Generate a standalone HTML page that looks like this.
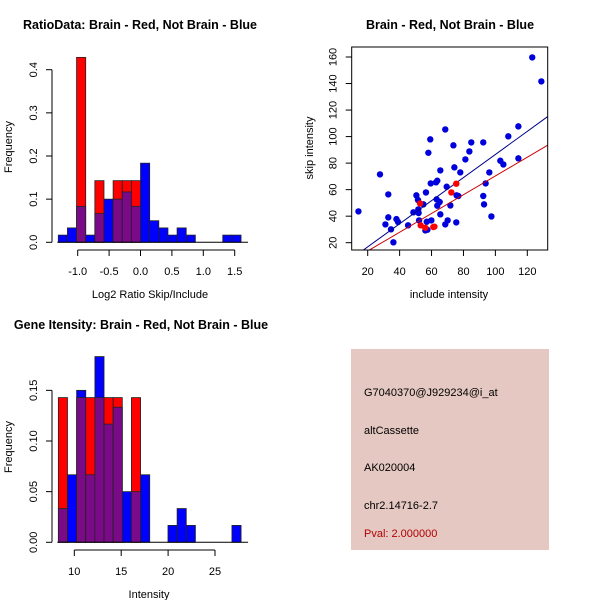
<!DOCTYPE html>
<html><head><meta charset="utf-8"><style>
body{margin:0;background:#fff;}
svg text{font-family:"Liberation Sans",sans-serif;}
</style></head><body>
<svg id="s" width="600" height="600" xmlns="http://www.w3.org/2000/svg">
<rect x="0" y="0" width="600" height="600" fill="#fff"/>
<g id="p1"></g>
<g id="p2"></g>
<g id="p3"></g>
<g>
<rect x="351" y="349" width="198" height="201" fill="#e5c8c2"/>
<text x="364" y="396" font-size="11" fill="#000">G7040370@J929234@i_at</text>
<text x="364" y="434" font-size="11" fill="#000">altCassette</text>
<text x="364" y="471" font-size="11" fill="#000">AK020004</text>
<text x="364" y="509" font-size="11" fill="#000">chr2.14716-2.7</text>
<text x="364" y="537" font-size="11" fill="#b00000">Pval: 2.000000</text>
</g>
</svg>
<script>
const NS="http://www.w3.org/2000/svg";
// Histogram 1 data
const h1Start=-1.309, h1Width=0.1455;
const h1Blue=[1,2,5,1,4,6,6,7,5,11,3,2,1,2,1,0,0,0,1,1];
const h1Red=[0,0,3,0,1,0,1,1,1,0,0,0,0,0,0,0,0,0,0,0];
const h1XTicks=[-1.0,-0.5,0.0,0.5,1.0,1.5];
const h1YTicks=[0.0,0.1,0.2,0.3,0.4];
// Histogram 2 data
const h2Start=8.3, h2Width=0.974;
const h2Blue=[2,4,9,4,11,7,8,3,3,4,0,0,1,2,1,0,0,0,0,1];
const h2Red=[1,0,1,1,1,1,1,0,1,0,0,0,0,0,0,0,0,0,0,0];
const h2XTicks=[10,15,20,25];
const h2YTicks=[0.00,0.05,0.10,0.15];
const nBlue=60, nRed=7;
// Scatter data
const blueX=[14.2,27.7,32.9,31.1,32.9,34.6,36.1,38.0,39.0,45.3,48.6,50.5,51.5,51.7,51.9,52.2,54.9,56.5,57.0,56.1,57.4,58.0,59.2,59.5,59.9,62.8,63.2,63.6,63.6,65.1,65.5,65.5,68.6,68.6,69.5,70.1,71.8,73.7,74.3,75.7,75.5,76.8,78.0,81.2,83.7,84.9,92.4,92.4,92.9,93.9,96.2,97.5,103.1,105.0,108.1,114.4,114.4,123.1,128.8];
const blueY=[43.6,71.5,56.4,33.8,39.1,30.1,20.3,37.8,35.6,33.1,42.9,55.7,52.2,45.1,42.4,36.8,48.9,57.9,35.8,29.3,29.8,87.8,97.9,64.7,36.8,65.5,52.7,66.7,47.9,50.7,41.4,74.5,105.4,33.8,62.2,36.8,48.1,93.4,76.8,55.7,35.3,55.2,73.0,82.8,88.8,95.6,95.6,55.2,48.9,64.7,73.0,39.8,81.8,79.0,100.2,107.7,83.6,159.7,141.6];
const redX=[52.8,53.2,56.1,61.1,61.8,72.4,75.5];
const redY=[49.6,33.1,31.3,31.8,32.1,57.9,64.5];
const blueFit=[-0.57,0.871]; // intercept, slope
const redFit=[-0.4,0.707];
const scXTicks=[20,40,60,80,100,120];
const scYTicks=[20,40,60,80,100,120,140,160];

function el(parent,tag,attrs){const e=document.createElementNS(NS,tag);for(const k in attrs)e.setAttribute(k,attrs[k]);parent.appendChild(e);return e;}
function txt(parent,x,y,s,size,extra){const t=el(parent,'text',Object.assign({x:x,y:y,'font-size':size,fill:'#000'},extra||{}));t.textContent=s;return t;}

function hist(g,cfg){
  const xs=v=>cfg.x0+(v-cfg.xv0)*cfg.xpu, ys=v=>cfg.y0-v*cfg.ypu;
  for(let i=0;i<cfg.blue.length;i++){
    const a=cfg.start+i*cfg.w, b=a+cfg.w;
    const fb=cfg.blue[i]/nBlue, fr=cfg.red[i]/nRed;
    const x1=xs(a),x2=xs(b);
    const mn=Math.min(fb,fr), mx=Math.max(fb,fr);
    if(mx>0){
      const r=el(g,'rect',{x:x1,y:ys(mx),width:x2-x1,height:ys(0)-ys(mx),fill:fr>fb?'#ff0000':'#0000ff',stroke:'#222','stroke-width':0.8});
      
      
    }
    if(mn>0){
      const r=el(g,'rect',{x:x1,y:ys(mn),width:x2-x1,height:ys(0)-ys(mn),fill:'#7a0a88',stroke:'#222','stroke-width':0.8});
      
      
    }
  }
  const ax=cfg.axX;
  el(g,'line',{x1:xs(cfg.xt[0]),x2:xs(cfg.xt[cfg.xt.length-1]),y1:cfg.axY,y2:cfg.axY,stroke:'#000'});
  cfg.xt.forEach(t=>{el(g,'line',{x1:xs(t),x2:xs(t),y1:cfg.axY,y2:cfg.axY+6,stroke:'#000'});
    const l=txt(g,xs(t),cfg.axY+25,cfg.xfmt(t),11,{'text-anchor':'middle'});
    
    });
  el(g,'line',{x1:ax,x2:ax,y1:ys(cfg.yt[0]),y2:ys(cfg.yt[cfg.yt.length-1]),stroke:'#000'});
  cfg.yt.forEach(t=>{el(g,'line',{x1:ax,x2:ax-6,y1:ys(t),y2:ys(t),stroke:'#000'});
    const l=txt(g,0,0,cfg.yfmt(t),11,{'text-anchor':'middle',transform:`translate(${ax-15},${ys(t)}) rotate(-90)`});
    
    });
  el(g,'line',{x1:xs(cfg.start)-1,x2:xs(cfg.start+cfg.w*cfg.blue.length)+7,y1:ys(0),y2:ys(0),stroke:'#000'});
}
const g1=document.getElementById('p1');
hist(g1,{x0:77.7,xv0:-1,xpu:62.8,y0:242.3,ypu:431.5,start:h1Start,w:h1Width,blue:h1Blue,red:h1Red,xt:h1XTicks,yt:h1YTicks,axX:52,axY:250,xfmt:t=>t.toFixed(1),yfmt:t=>t.toFixed(1)});
let t;
t=txt(g1,140,29,'RatioData: Brain - Red, Not Brain - Blue',12.5,{'text-anchor':'middle','font-weight':'bold'});
t=txt(g1,150,298,'Log2 Ratio Skip/Include',11,{'text-anchor':'middle'});
t=txt(g1,0,0,'Frequency',11,{'text-anchor':'middle',transform:'translate(12,147) rotate(-90)'});

const g3=document.getElementById('p3');
hist(g3,{x0:74.3,xv0:10,xpu:9.38,y0:542.3,ypu:1013,start:h2Start,w:h2Width,blue:h2Blue,red:h2Red,xt:h2XTicks,yt:h2YTicks,axX:52,axY:550,xfmt:t=>String(t),yfmt:t=>t.toFixed(2)});
t=txt(g3,141,329,'Gene Itensity: Brain - Red, Not Brain - Blue',12.5,{'text-anchor':'middle','font-weight':'bold'});
t=txt(g3,149,598,'Intensity',11,{'text-anchor':'middle'});
t=txt(g3,0,0,'Frequency',11,{'text-anchor':'middle',transform:'translate(12,447) rotate(-90)'});

// Scatter
const g2=document.getElementById('p2');
const sx=v=>367.7+(v-20)*1.596, sy=v=>242.7-(v-20)*1.3264;
const L=351.7,R=547.7,T=47,B=250;
el(g2,'defs',{}).innerHTML='<clipPath id="cp"><rect x="351.7" y="47" width="196" height="203"/></clipPath>';
const cg=el(g2,'g',{'clip-path':'url(#cp)'});
function fit(f,col,name){const xa=(L-367.7)/1.596+20, xb=(R-367.7)/1.596+20;
  const l=el(cg,'line',{x1:sx(xa),y1:sy(f[0]+f[1]*xa),x2:sx(xb),y2:sy(f[0]+f[1]*xb),stroke:col,'stroke-width':1});
  
  }
blueX.forEach((x,i)=>{const c=el(cg,'circle',{cx:sx(x),cy:sy(blueY[i]),r:3.2,fill:'#0000dd'});
  
  });
fit(blueFit,'#00008b','blue-fit-line');
fit(redFit,'#cc0000','red-fit-line');
redX.forEach((x,i)=>{const c=el(cg,'circle',{cx:sx(x),cy:sy(redY[i]),r:3.2,fill:'#ff0000'});
  
  });
el(g2,'rect',{x:L,y:T,width:R-L,height:B-T,fill:'none',stroke:'#000'});
scXTicks.forEach(v=>{el(g2,'line',{x1:sx(v),x2:sx(v),y1:B,y2:B+6,stroke:'#000'});
  const l=txt(g2,sx(v),B+25,String(v),11,{'text-anchor':'middle'});
  
  });
scYTicks.forEach(v=>{el(g2,'line',{x1:L,x2:L-6,y1:sy(v),y2:sy(v),stroke:'#000'});
  const l=txt(g2,0,0,String(v),11,{'text-anchor':'middle',transform:`translate(${L-15},${sy(v)}) rotate(-90)`});
  
  });
t=txt(g2,450,29,'Brain - Red, Not Brain - Blue',12.5,{'text-anchor':'middle','font-weight':'bold'});
t=txt(g2,449,298,'include intensity',11,{'text-anchor':'middle'});
t=txt(g2,0,0,'skip intensity',11,{'text-anchor':'middle',transform:'translate(313,148) rotate(-90)'});
</script>
</body></html>
